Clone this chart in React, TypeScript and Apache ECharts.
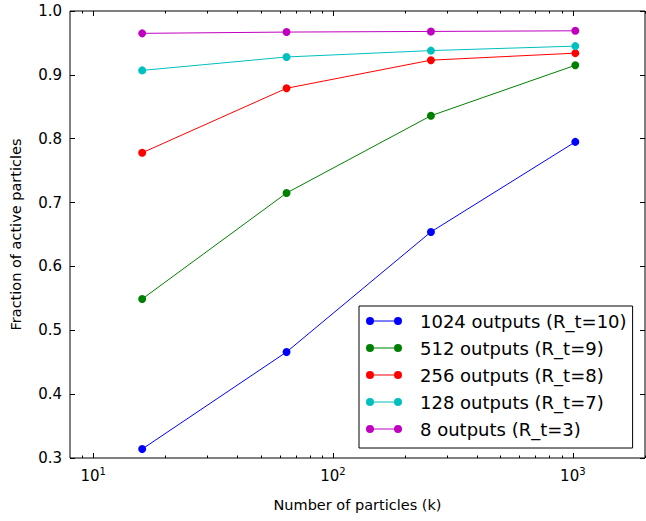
import React, { useEffect, useRef } from "react";
import * as echarts from "echarts";

const particles = [16, 64, 256, 1024];
const seriesNames = [
  "1024 outputs (R_t=10)",
  "512 outputs (R_t=9)",
  "256 outputs (R_t=8)",
  "128 outputs (R_t=7)",
  "8 outputs (R_t=3)",
];
const seriesColors = ["#0000ff", "#008000", "#ff0000", "#00bfbf", "#bf00bf"];
const out1024 = [0.314, 0.466, 0.654, 0.795];
const out512 = [0.549, 0.715, 0.836, 0.915];
const out256 = [0.778, 0.879, 0.923, 0.934];
const out128 = [0.907, 0.928, 0.938, 0.945];
const out8 = [0.965, 0.967, 0.968, 0.969];
const seriesValues = [out1024, out512, out256, out128, out8];
const xMajorTicks = [10, 100, 1000];
const xMinorTicks = [9, 20, 30, 40, 50, 60, 70, 80, 90, 200, 300, 400, 500, 600, 700, 800, 900, 2000];

const FONT = "DejaVu Sans";
const ICON =
  "path://M0,4A4,4 0 1,1 8,4A4,4 0 1,1 0,4ZM28,4A4,4 0 1,1 36,4A4,4 0 1,1 28,4ZM4,3.4L32,3.4L32,4.6L4,4.6Z";

export default function App() {
  const ref = useRef<HTMLDivElement>(null);
  useEffect(() => {
    if (!ref.current) return;
    const chart = echarts.init(ref.current, undefined, { renderer: "svg" });
    const xBase = {
      type: "log" as const,
      logBase: 10,
      min: 8,
      max: 2000,
      gridIndex: 0,
      axisLine: { show: false },
      splitLine: { show: false },
    };
    const option: any = {
      animation: false,
      backgroundColor: "#ffffff",
      grid: {
        left: 70,
        right: 1,
        top: 11,
        bottom: 63,
        outerBoundsMode: "none",
        show: true,
        borderColor: "#000",
        borderWidth: 1,
        backgroundColor: "transparent",
      },
      xAxis: [
        {
          ...xBase,
          position: "bottom",
          name: "Number of particles (k)",
          nameLocation: "middle",
          nameGap: 39,
          nameTextStyle: { fontFamily: FONT, fontSize: 14.5, color: "#000" },
          axisTick: { show: true, inside: true, length: 5, customValues: xMajorTicks, lineStyle: { color: "#000" } },
          axisLabel: {
            show: true,
            customValues: xMajorTicks,
            margin: 8,
            formatter: (v: number) => "{b|10}{s|" + Math.round(Math.log10(v)) + "}",
            rich: {
              b: { fontFamily: FONT, fontSize: 15, color: "#000" },
              s: { fontFamily: FONT, fontSize: 10, color: "#000", padding: [0, 0, 9, 0] },
            },
          },
        },
        {
          ...xBase,
          position: "bottom",
          axisTick: { show: true, inside: true, length: 2.5, customValues: xMinorTicks, lineStyle: { color: "#000" } },
          axisLabel: { show: false },
        },
        {
          ...xBase,
          position: "top",
          axisTick: { show: true, inside: true, length: 5, customValues: xMajorTicks, lineStyle: { color: "#000" } },
          axisLabel: { show: false },
        },
        {
          ...xBase,
          position: "top",
          axisTick: { show: true, inside: true, length: 2.5, customValues: xMinorTicks, lineStyle: { color: "#000" } },
          axisLabel: { show: false },
        },
      ],
      yAxis: [
        {
          type: "value",
          min: 0.3,
          max: 1.0,
          interval: 0.1,
          position: "left",
          name: "Fraction of active particles",
          nameLocation: "middle",
          nameGap: 47,
          nameRotate: 90,
          nameTextStyle: { fontFamily: FONT, fontSize: 14.5, color: "#000" },
          axisLine: { show: false },
          splitLine: { show: false },
          axisTick: { show: true, inside: true, length: 5, lineStyle: { color: "#000" } },
          axisLabel: {
            margin: 8,
            fontFamily: FONT,
            fontSize: 15,
            color: "#000",
            formatter: (v: number) => v.toFixed(1),
          },
        },
        {
          type: "value",
          min: 0.3,
          max: 1.0,
          interval: 0.1,
          position: "right",
          axisLine: { show: false },
          splitLine: { show: false },
          axisTick: { show: true, inside: true, length: 5, lineStyle: { color: "#000" } },
          axisLabel: { show: false },
        },
      ],
      legend: {
        show: true,
        orient: "vertical",
        left: 359,
        top: 306,
        padding: [5, 6, 9, 7],
        itemGap: 7,
        itemWidth: 36,
        itemHeight: 8,
        backgroundColor: "#fff",
        borderColor: "#000",
        borderWidth: 1,
        borderRadius: 0,
        icon: ICON,
        itemStyle: { borderWidth: 0 },
        textStyle: {
          fontFamily: FONT,
          fontSize: 18,
          lineHeight: 20,
          color: "#000",
          padding: [0, 0, 0, 13],
        },
        data: seriesNames,
      },
      series: seriesNames.map((name, i) => ({
        name,
        type: "line",
        xAxisIndex: 0,
        yAxisIndex: 0,
        data: particles.map((x, j) => [x, seriesValues[i][j]]),
        color: seriesColors[i],
        symbol: "circle",
        symbolSize: 8,
        showSymbol: true,
        lineStyle: { width: 1, color: seriesColors[i] },
        itemStyle: { color: seriesColors[i] },
        z: 2 + i,
      })),
    };
    chart.setOption(option);
    return () => chart.dispose();
  }, []);
  return (
    <div
      ref={ref}
      style={{ position: "fixed", left: 0, top: 0, width: 646, height: 521 }}
    />
  );
}
